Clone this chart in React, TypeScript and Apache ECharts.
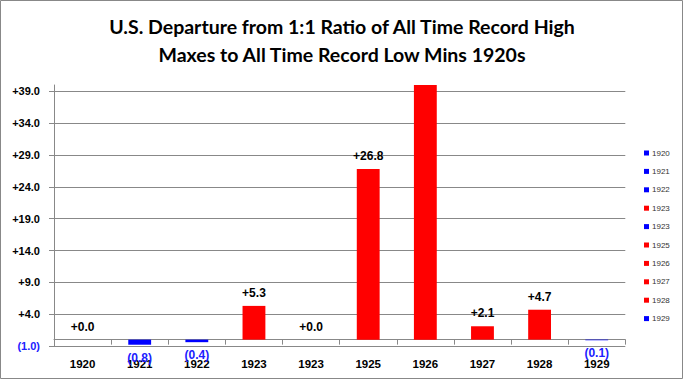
import React, { useEffect, useRef } from "react";
import * as echarts from "echarts";

const titleLines = [
  "U.S. Departure from 1:1 Ratio of All Time Record High",
  "Maxes to All Time Record Low Mins 1920s",
];
const categories = ["1920", "1921", "1922", "1923", "1923", "1925", "1926", "1927", "1928", "1929"];
const values = [0.0, -0.8, -0.4, 5.3, 0.0, 26.8, 44.0, 2.1, 4.7, -0.1];
const yMin = -1;
const yMax = 40;
const yStep = 5;

const RED = "#ff0000";
const BLUE = "#0000ff";
const LABEL_BLUE = "#2020ff";
const GRID = "#888888";
const FONT = "'Liberation Sans', Arial, sans-serif";

const fmt = (v: number) => (v >= 0 ? "+" + v.toFixed(1) : "(" + Math.abs(v).toFixed(1) + ")");

export default function App() {
  const ref = useRef<HTMLDivElement>(null);
  useEffect(() => {
    if (!ref.current) return;
    const chart = echarts.init(ref.current, null, { renderer: "svg" });
    // unique legend names (zero-width space keeps duplicates distinct)
    const seen: Record<string, number> = {};
    const names = categories.map((c) => {
      seen[c] = (seen[c] || 0) + 1;
      return c + "\u200b".repeat(seen[c] - 1);
    });
    const series = categories.map((c, i) => {
      const v = values[i];
      const color = v > 0 ? RED : BLUE;
      return {
        name: names[i],
        type: "bar",
        stack: "all",
        barWidth: "40%",
        data: categories.map((_, j) => (j === i ? v : "-")),
        itemStyle: { color },
        label: {
          show: v <= yMax,
          position: v < 0 ? "bottom" : "top",
          distance: 7,
          formatter: (p: any) => fmt(p.value),
          color: v < 0 ? LABEL_BLUE : "#000",
          fontSize: 12,
          fontWeight: "bold",
          fontFamily: FONT,
        },
      };
    });
    chart.setOption({
      animation: false,
      backgroundColor: "#fff",
      title: {
        text: titleLines.join("\n"),
        left: "center",
        top: 7,
        textStyle: {
          fontFamily: "Lato, 'Open Sans', sans-serif",
          fontSize: 19.5,
          fontWeight: "bold",
          lineHeight: 28,
          color: "#000",
        },
      },
      legend: {
        orient: "vertical",
        left: 644,
        top: 148,
        padding: 0,
        itemWidth: 5,
        itemHeight: 5,
        itemGap: 8.4,
        icon: "rect",
        textStyle: { fontSize: 8, lineHeight: 10, color: "#333", fontFamily: FONT, padding: [0, 0, 0, -2] },
        data: names,
      },
      grid: { left: 54, right: 58.7, top: 85, bottom: 34, containLabel: false },
      xAxis: {
        type: "category",
        data: categories,
        axisLine: { onZero: true, lineStyle: { color: GRID, width: 1 } },
        axisTick: { show: true, length: 5, alignWithLabel: false, lineStyle: { color: GRID } },
        axisLabel: { margin: 12, fontSize: 11.5, fontWeight: "bold", color: "#000", fontFamily: FONT, interval: 0 },
        splitLine: { show: false },
      },
      yAxis: {
        type: "value",
        min: yMin,
        max: yMax,
        interval: yStep,
        axisLine: { show: true, lineStyle: { color: GRID, width: 1 } },
        axisTick: { show: true, length: 5, lineStyle: { color: GRID } },
        axisLabel: {
          margin: 14,
          fontSize: 11,
          fontWeight: "bold",
          fontFamily: FONT,
          showMaxLabel: false,
          formatter: (v: number) => fmt(v),
          color: (v: any) => (Number(v) < 0 ? LABEL_BLUE : "#000"),
        },
        splitLine: { show: true, showMaxLine: false, lineStyle: { color: GRID, width: 1 } },
      },
      graphic: [
        {
          type: "rect",
          shape: { x: 0.5, y: 0.5, width: 682, height: 378 },
          style: { fill: "none", stroke: GRID, lineWidth: 1 },
          silent: true,
        },
      ],
      series,
    });
    return () => chart.dispose();
  }, []);
  return (
    <div
      ref={ref}
      style={{ position: "absolute", left: 0, top: 0, width: 684, height: 380 }}
    />
  );
}
